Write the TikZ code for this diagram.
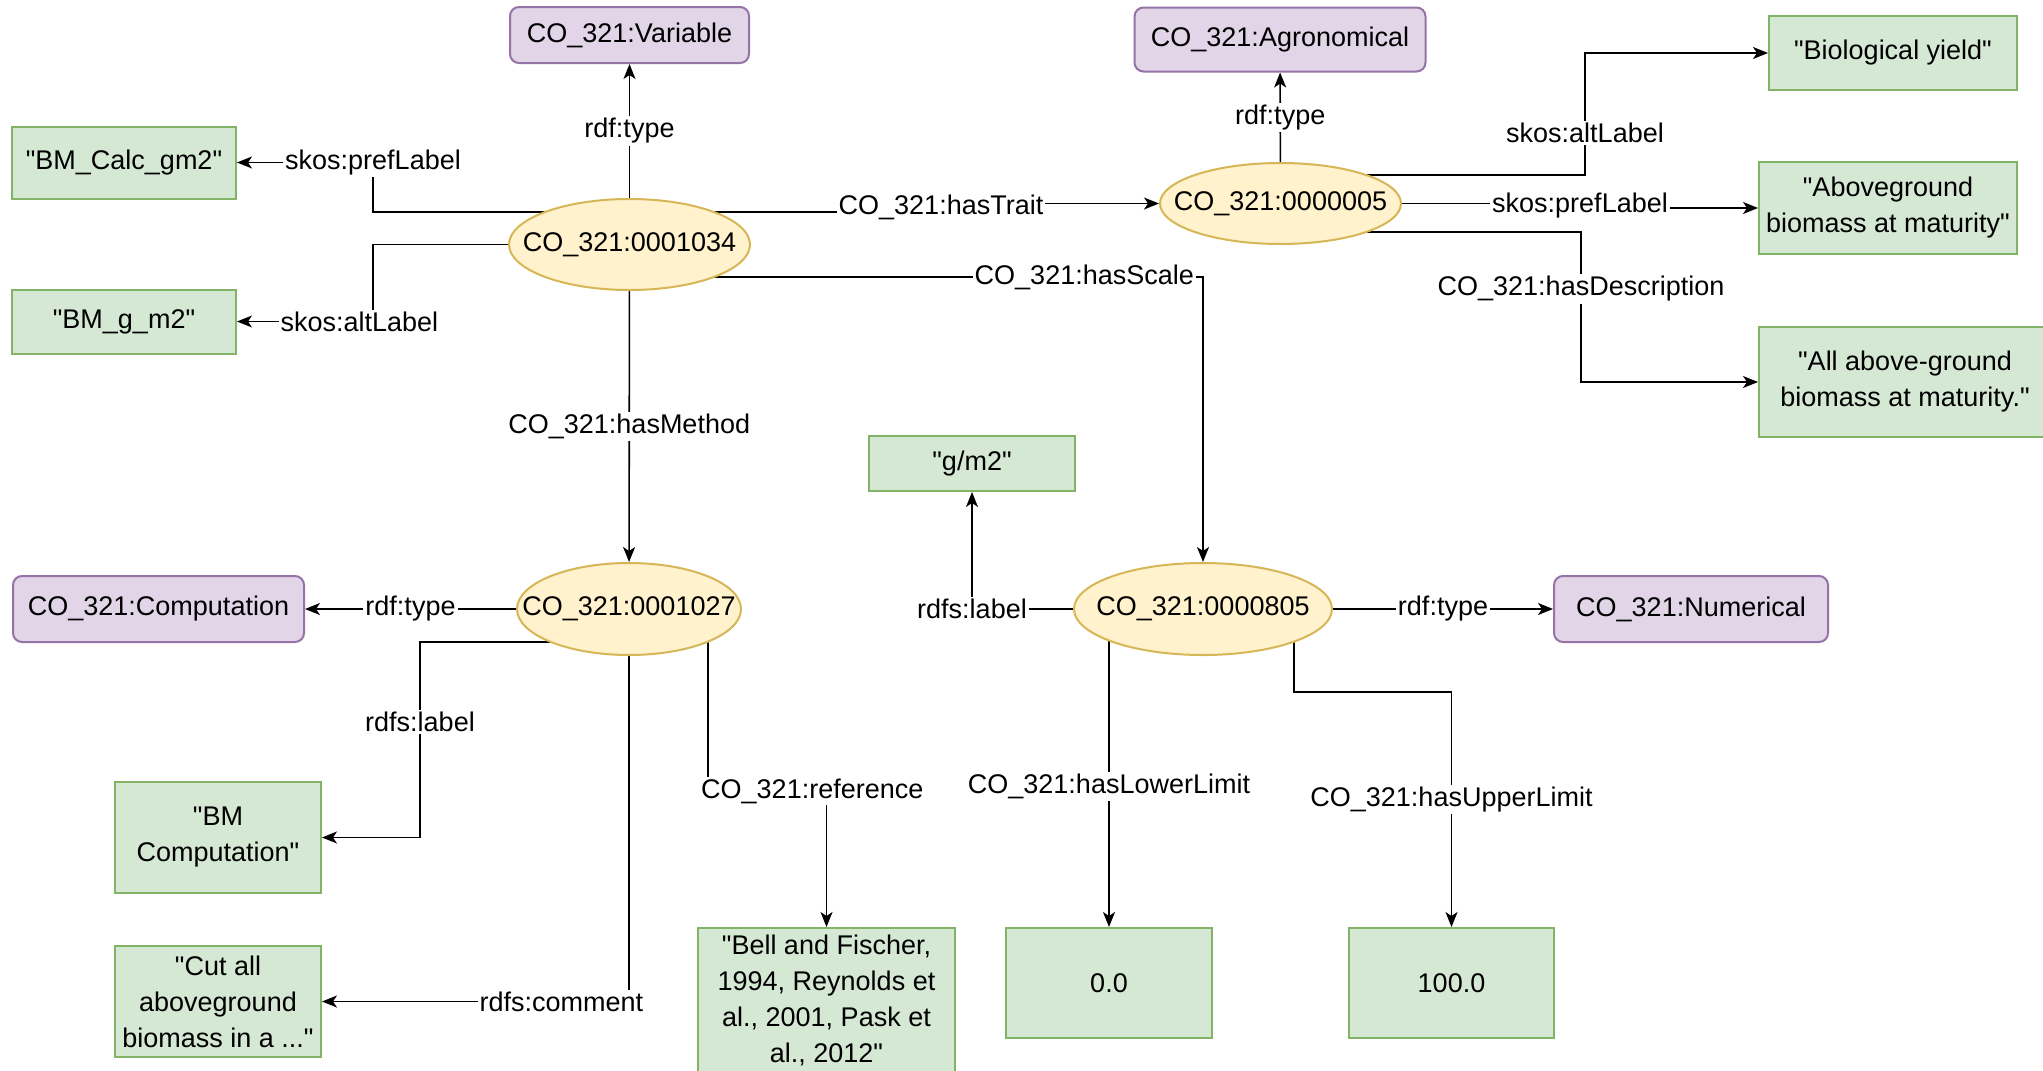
\documentclass[tikz,border=0pt]{standalone}
\usepackage{fontspec}
\setmainfont{Liberation Sans}[Ligatures=TeXOff]
\usetikzlibrary{shapes.geometric,arrows.meta,calc,backgrounds}

\definecolor{gfill}{HTML}{D5E8D4}
\definecolor{gline}{HTML}{82B366}
\definecolor{pfill}{HTML}{E1D5E7}
\definecolor{pline}{HTML}{9673A6}
\definecolor{yfill}{HTML}{FFF2CC}
\definecolor{yline}{HTML}{D6B656}

% straight double quote
\newcommand{\qmk}{\symbol{34}}

\begin{document}
\begin{tikzpicture}[x=1pt,y=-1pt,
  every node/.style={font=\fontsize{27}{36}\selectfont, text=black},
  lit/.style={rectangle, fill=gfill, draw=gline, line width=2pt, align=center, inner sep=0pt},
  cls/.style={rectangle, rounded corners=9pt, fill=pfill, draw=pline, line width=2pt, inner sep=0pt},
  res/.style={ellipse, fill=yfill, draw=yline, line width=2pt, inner sep=0pt},
  rel/.style={draw=black, line width=1.6pt, -{Stealth[length=15pt,width=12pt,inset=4pt]}},
  lbl/.style={fill=white, inner sep=2pt},
]
\useasboundingbox (0,0) rectangle (2043,1071);
\clip (0,0) rectangle (2043,1071);

% resources
\node[res, minimum width=241pt, minimum height=91pt, label={center:{CO\_321:0001034}}] (n1034) at (629.5,244.5) {};
\node[res, minimum width=241pt, minimum height=81pt, label={center:{CO\_321:0000005}}] (n0005) at (1280.5,203.5) {};
\node[res, minimum width=224pt, minimum height=92pt, label={center:{CO\_321:0001027}}] (n1027) at (629,609) {};
\node[res, minimum width=258pt, minimum height=92pt, label={center:{CO\_321:0000805}}] (n0805) at (1203,609) {};

% classes
\node[cls, minimum width=239pt, minimum height=56pt] (var)  at (629.5,35)  {CO\_321:Variable};
\node[cls, minimum width=291pt, minimum height=64pt] (agro) at (1280,39.5) {CO\_321:Agronomical};
\node[cls, minimum width=291pt, minimum height=66pt] (comp) at (158.5,609) {CO\_321:Computation};
\node[cls, minimum width=274pt, minimum height=66pt] (num)  at (1691,609)  {CO\_321:Numerical};

% literals
\node[lit, minimum width=224pt, minimum height=72pt]  (bmcalc)  at (124,162.5)  {\qmk BM\_Calc\_gm2\qmk};
\node[lit, minimum width=224pt, minimum height=64pt]  (bmg)     at (124,321.5)  {\qmk BM\_g\_m2\qmk};
\node[lit, minimum width=248pt, minimum height=74pt]  (bio)     at (1893,53)    {\qmk Biological yield\qmk};
\node[lit, minimum width=258pt, minimum height=92pt]  (above)   at (1888,208)   {\qmk Aboveground\\biomass at maturity\qmk};
\node[lit, minimum width=292pt, minimum height=110pt] (allab)   at (1905,382)   {\qmk All above-ground\\biomass at maturity.\qmk};
\node[lit, minimum width=206pt, minimum height=55pt]  (gm2)     at (972,463.5)  {\qmk g/m2\qmk};
\node[lit, minimum width=206pt, minimum height=111pt] (bmcomp)  at (218,837.5)  {\qmk BM\\Computation\qmk};
\node[lit, minimum width=206pt, minimum height=111pt] (cutall)  at (218,1001.5) {\qmk Cut all\\aboveground\\biomass in a ...\qmk};
\node[lit, minimum width=257pt, minimum height=144pt] (bell)    at (826.5,1000) {\qmk Bell and Fischer,\\1994, Reynolds et\\al., 2001, Pask et\\al., 2012\qmk};
\node[lit, minimum width=206pt, minimum height=110pt] (zero)    at (1109,983)   {0.0};
\node[lit, minimum width=205pt, minimum height=110pt] (hundred) at (1451.5,983) {100.0};

\begin{scope}[on background layer]
  \fill[white] (0,0) rectangle (2043,1071);

  % properties of CO_321:0001034
  \draw[rel] (n1034) -- node[lbl]{rdf:type} (var);
  \draw[rel] ($(n1034.center)+(0,-32.5)$) -| (373,162.5)
    -- node[lbl,pos=0]{skos:prefLabel} (bmcalc.east);
  \draw[rel] (n1034.center) -| (373,321.5)
    -- node[lbl,pos=0.1]{skos:altLabel} (bmg.east);
  \draw[rel] ($(n1034.center)+(0,-32.5)$) -- (941,212)
    -- node[lbl]{CO\_321:hasTrait} (941,203.5) -- (n0005.west);
  \draw[rel] ($(n1034.center)+(0,32.5)$)
    -- node[lbl,pos=0.793]{CO\_321:hasScale} (1203,277) -- (n0805.north);
  \draw[rel] (n1034) -- node[lbl]{CO\_321:hasMethod} (n1027);

  % properties of CO_321:0000005
  \draw[rel] (n0005) -- node[lbl]{rdf:type} (agro);
  \draw[rel] ($(n0005.center)+(0,-28.5)$) -- (1585,175)
    -- node[lbl,pos=0.344]{skos:altLabel} (1585,53) -- (bio.west);
  \draw[rel] (n0005.center) -- (1580,203.5)
    -- node[lbl]{skos:prefLabel} (1580,208) -- (above.west);
  \draw[rel] ($(n0005.center)+(0,28.5)$) -- (1581,232)
    -- node[lbl,pos=0.38]{CO\_321:hasDescription} (1581,382) -- (allab.west);

  % properties of CO_321:0001027
  \draw[rel] (n1027) -- node[lbl]{rdf:type} (comp);
  \draw[rel] ($(n1027.center)+(0,33)$) -- (420,642)
    -- node[lbl,pos=0.41]{rdfs:label} (420,837.5) -- (bmcomp.east);
  \draw[rel] (n1027.center) -- (629,1001.5)
    -- node[lbl,pos=0.22]{rdfs:comment} (cutall.east);
  \draw[rel] ($(n1027.center)+(79,0)$) -- (708,791)
    -- node[lbl,pos=0.88]{CO\_321:reference} (826.5,791) -- (bell.north);

  % properties of CO_321:0000805
  \draw[rel] (n0805) -- (972,609) -- node[lbl,pos=0]{rdfs:label} (gm2.south);
  \draw[rel] (n0805) -- node[lbl]{rdf:type} (num);
  \draw[rel] (zero.north |- n0805.center)
    -- node[lbl,pos=0.558]{CO\_321:hasLowerLimit} (zero.north);
  \draw[rel] ($(n0805.center)+(91,0)$) -- (1294,692) -- (1451.5,692)
    -- node[lbl,pos=0.458]{CO\_321:hasUpperLimit} (hundred.north);
\end{scope}
\end{tikzpicture}
\end{document}
